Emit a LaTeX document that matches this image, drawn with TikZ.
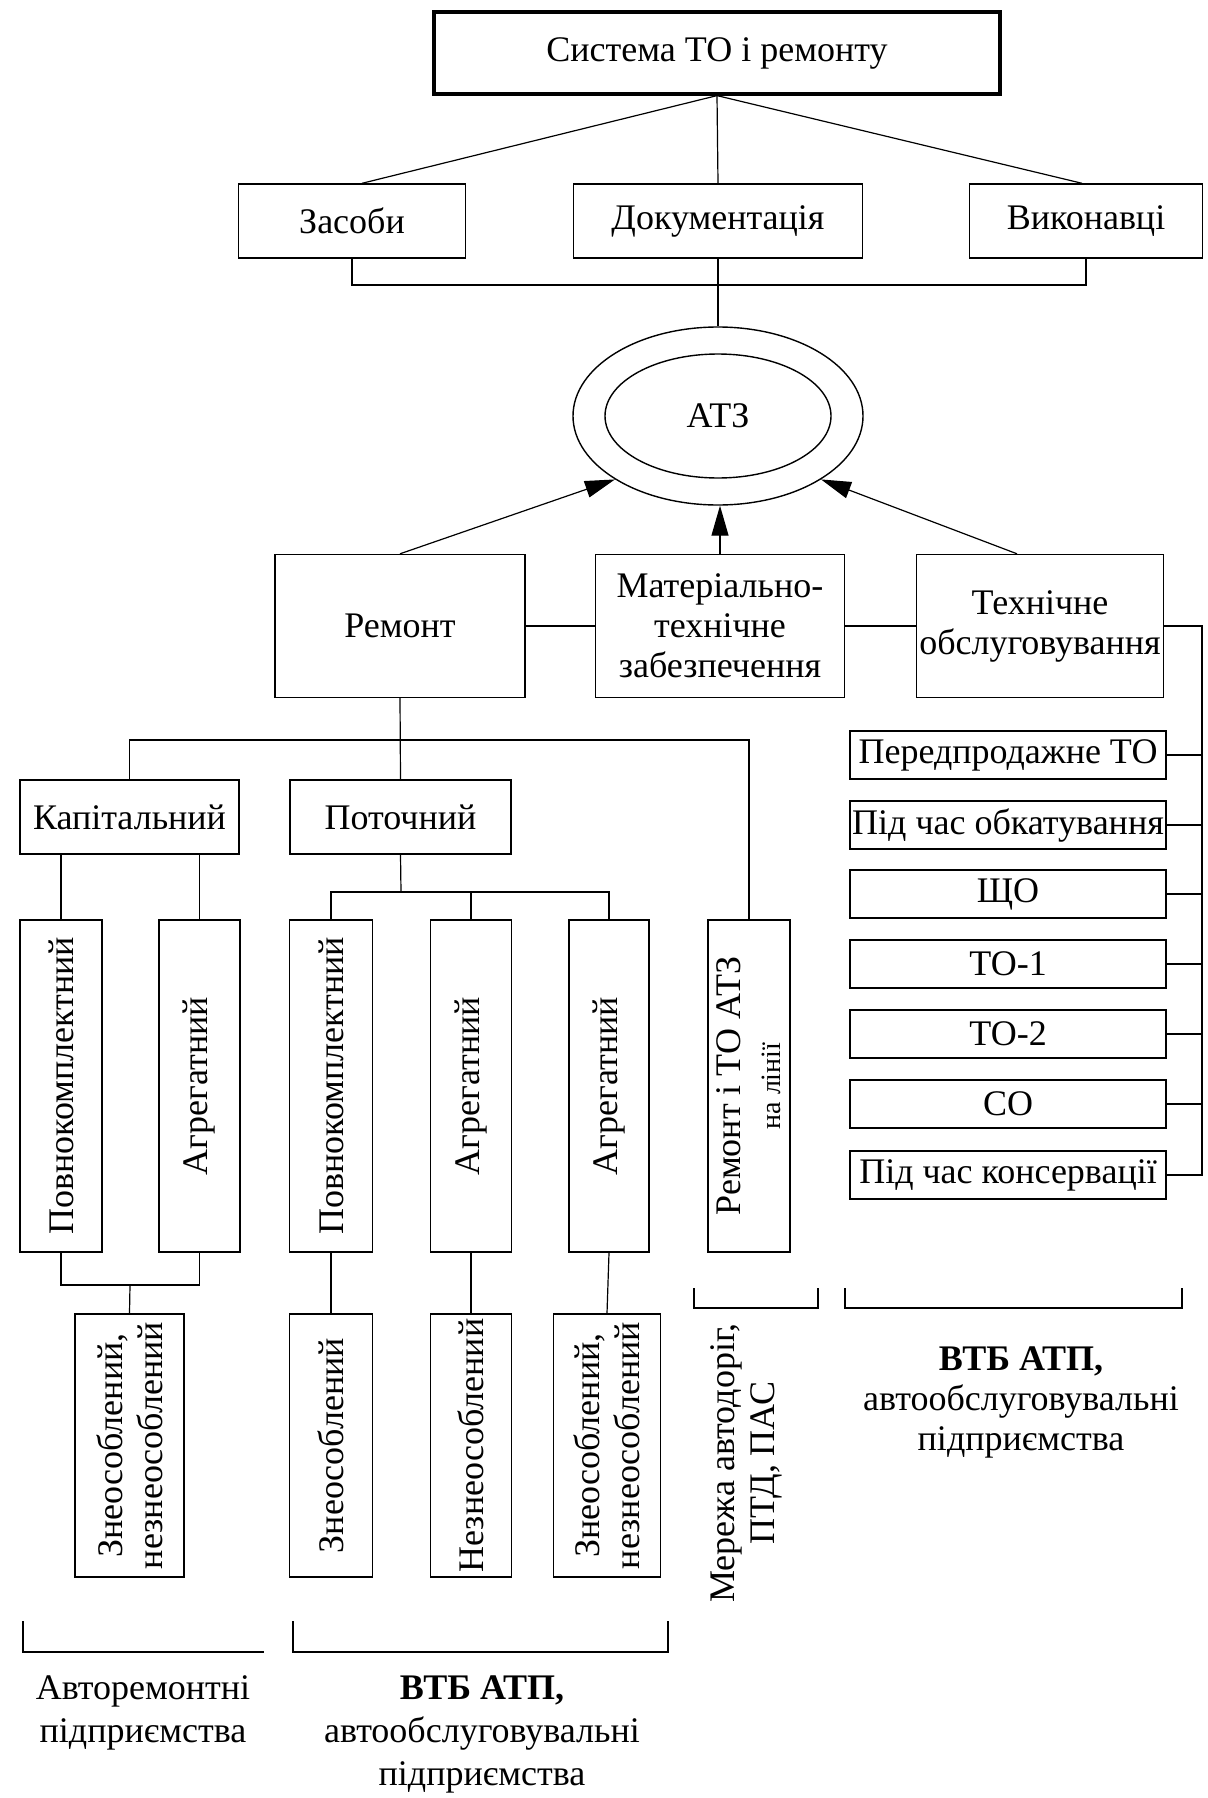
\documentclass[tikz,border=0pt]{standalone}
\usepackage{fontspec}
\setmainfont{Liberation Serif}
\usetikzlibrary{arrows.meta, positioning, shapes.geometric}

\tikzset{
  lab/.style={font=\fontsize{18}{20}\selectfont},
  box/.style={draw, line width=0.7pt, inner sep=1pt, align=center, lab},
  hbox/.style={box, minimum height=37pt},
  vbox/.style={box, rotate=90, minimum width=166pt},
  lowbox/.style={box, rotate=90, minimum width=131.5pt},
  listbox/.style={box, inner xsep=0pt, minimum width=158pt, minimum height=24pt},
  link/.style={line width=0.6pt},
  tip/.style={link, -{Triangle[length=15pt, width=8.5pt]}},
}

\begin{document}
\begin{tikzpicture}[x=0.5pt, y=-0.5pt]
  \useasboundingbox (0,0) rectangle (1208,1798);

  % System and its parts
  \node[box, line width=1.6pt, minimum width=283pt, minimum height=41pt] (sys) at (717,53) {Система ТО і ремонту};
  \node[hbox, minimum width=113.5pt] (zas) at (352,221) {Засоби};
  \node[hbox, minimum width=144.5pt] (doc) at (718,221) {Документація};
  \node[hbox, minimum width=116.5pt] (vyk) at (1086,221) {Виконавці};
  \draw[link] (sys.south) -- ([xshift=5pt]zas.north);
  \draw[link] (sys.south) -- (doc.north);
  \draw[link] (sys.south) -- ([xshift=-2pt]vyk.north);

  % ATZ
  \node[ellipse, draw, line width=0.7pt, inner sep=0pt, minimum width=145pt, minimum height=89pt] (atzout) at (718,416) {};
  \node[ellipse, draw, line width=0.7pt, inner sep=0pt, minimum width=113pt, minimum height=62pt, lab] (atzin) at (718,416) {АТЗ};
  \coordinate (dj) at (718,285);
  \draw[link] (zas.south) |- (dj) -| (vyk.south);
  \draw[link] (doc.south) -- (atzout.north);

  % Middle row
  \node[box, minimum width=125pt, minimum height=71.5pt] (remont) at (400,626) {Ремонт};
  \node[box, minimum width=124.5pt, minimum height=71.5pt] (mat) at (720,626) {Матеріально-\\технічне\\забезпечення};
  \node[box, minimum width=123.5pt, minimum height=71.5pt] (tech) at (1040,626) {Технічне\\обслуговування};
  \draw[link] (remont.east) -- (mat.west);
  \draw[link] (mat.east) -- (tech.west);
  \draw[tip] (remont.north) -- (atzout.south west);
  \draw[tip] (mat.north) -- (mat.north |- atzout.south);
  \draw[tip] ([xshift=-11.5pt]tech.north) -- (atzout.south east);

  % Kinds of repair
  \node[hbox, minimum width=109.5pt] (kap) at (129.5,817) {Капітальний};
  \node[hbox, minimum width=110.5pt] (pot) at (400.5,817) {Поточний};
  \node[vbox, minimum height=41pt] (kpv) at (61,1086) {Повнокомплектний};
  \node[vbox, minimum height=40.5pt] (kag) at (199.5,1086) {Агрегатний};
  \node[vbox, minimum height=41.5pt] (ppv) at (331,1086) {Повнокомплектний};
  \node[vbox, minimum height=40.5pt] (pag) at (471,1086) {Агрегатний};
  \node[vbox, minimum height=40pt] (pagb) at (609,1086) {Агрегатний};
  \node[vbox, minimum height=41pt] (rtl) at (749,1086) {Ремонт і ТО АТЗ\\{\fontsize{14}{15}\selectfont на лінії}};

  \coordinate (rj) at (400,740);
  \draw[link] (remont.south) -- (pot.north);
  \draw[link] (kap.north) |- (rj) -| (rtl.east);
  \draw[link] (kpv.east) -- (kpv.east |- kap.south);
  \draw[link] (kag.east) -- (kag.east |- kap.south);
  \coordinate (pj) at (401,892);
  \draw[link] (pot.south) -- (pj);
  \draw[link] (ppv.east) |- (pj) -| (pagb.east);
  \draw[link] (pag.east) -- (pag.east |- pj);

  % Depersonalised or not
  \node[lowbox, minimum height=54.5pt] (kzn) at (129.5,1445.5) {Знеособлений,\\незнеособлений};
  \node[lowbox, minimum height=41.5pt] (pzn) at (331,1445.5) {Знеособлений};
  \node[lowbox, minimum height=40.5pt] (pnz) at (471,1445.5) {Незнеособлений};
  \node[lowbox, minimum height=53.5pt] (pzz) at (607,1445.5) {Знеособлений,\\незнеособлений};
  \coordinate (kj) at (130,1285);
  \draw[link] (kpv.west) |- (kj) -| (kag.west);
  \draw[link] (kj) -- (kzn.east);
  \draw[link] (ppv.west) -- (pzn.east);
  \draw[link] (pag.west) -- (pnz.east);
  \draw[link] (pagb.west) -- (pzz.east);

  % Kinds of maintenance
  \node[listbox] (pp) at (1008,755) {Передпродажне ТО};
  \node[listbox] (obk) at (1008,825) {Під час обкатування};
  \node[listbox] (shcho) at (1008,894) {ЩО};
  \node[listbox] (to1) at (1008,964) {ТО-1};
  \node[listbox] (to2) at (1008,1034) {ТО-2};
  \node[listbox] (so) at (1008,1104) {СО};
  \node[listbox] (kons) at (1008,1175) {Під час консервації};
  \coordinate (rail) at (1202,626);
  \draw[link] (tech.east) -- (rail) -- (rail |- kons.east) -- (kons.east);
  \foreach \n in {pp, obk, shcho, to1, to2, so}
    \draw[link] (\n.east) -- (\n.east -| rail);

  % Where it is done
  \draw[link] (694,1288) -- (694,1308) -- (818,1308) -- (818,1288);
  \draw[link] (845,1288) -- (845,1308) -- (1182,1308) -- (1182,1288);
  \draw[link] (23,1621) -- (23,1652) -- (264,1652);
  \draw[link] (293,1621) -- (293,1652) -- (668,1652) -- (668,1621);
  \node[lab, rotate=90, align=center] (merezha) at (746,1463) {Мережа автодоріг,\\ПТД, ПАС};
  \node[lab, align=center] (vtba) at (1021,1402) {\textbf{ВТБ АТП,}\\автообслуговувальні\\підприємства};
  \node[lab, align=center, font=\fontsize{18}{21.5}\selectfont] (avto) at (143,1713) {Авторемонтні\\підприємства};
  \node[lab, align=center, font=\fontsize{18}{21.5}\selectfont] (vtbb) at (482,1734) {\textbf{ВТБ АТП,}\\автообслуговувальні\\підприємства};
\end{tikzpicture}
\end{document}
